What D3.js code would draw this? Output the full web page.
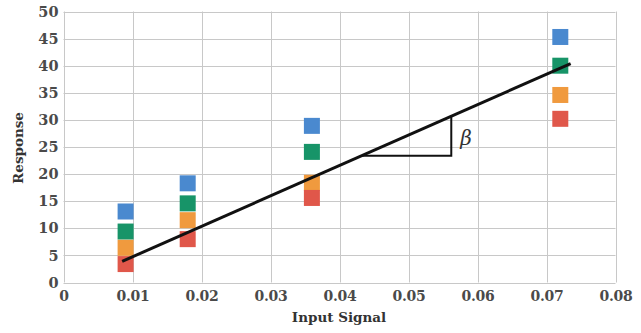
<!DOCTYPE html>
<html><head><meta charset="utf-8">
<script src="https://cdn.jsdelivr.net/npm/d3@7"></script>
<style>html,body{margin:0;padding:0;background:#fff;}svg{display:block;}</style>
</head><body>
<svg id="c" width="641" height="333"></svg>
<script>
const inputs = [0.009, 0.018, 0.036, 0.072];
const seriesNames = ["blue", "green", "orange", "red"];
const blueVals = [13.1, 18.3, 28.9, 45.3];
const greenVals = [9.4, 14.6, 24.1, 40.0];
const orangeVals = [6.4, 11.5, 18.4, 34.6];
const redVals = [3.4, 8.0, 15.6, 30.2];
const seriesColors = ["#4a89cf", "#179468", "#f09a3e", "#e0574a"];
const fitLine = [[0.0085, 3.9], [0.0735, 40.4]];
const triangle = [[0.0433, 23.4], [0.0562, 23.4], [0.0562, 30.6]];
const xTicks = [0, 0.01, 0.02, 0.03, 0.04, 0.05, 0.06, 0.07, 0.08];
const yTicks = [0, 5, 10, 15, 20, 25, 30, 35, 40, 45, 50];

const svg = d3.select("#c");
const m = {l: 63.5, r: 615.5, t: 11.5, b: 282.5};
const x = d3.scaleLinear().domain([0, 0.08]).range([m.l, m.r]);
const y = d3.scaleLinear().domain([0, 50]).range([m.b, m.t]);

const grid = svg.append("g");
grid.selectAll("line.v").data(xTicks).enter().append("line")
  .attr("x1", d => Math.round(x(d)) + 0.5).attr("x2", d => Math.round(x(d)) + 0.5)
  .attr("y1", m.t).attr("y2", m.b).attr("stroke", "#c8c8c8").attr("stroke-width", 1);
grid.selectAll("line.h").data(yTicks).enter().append("line")
  .attr("x1", m.l).attr("x2", m.r)
  .attr("y1", d => Math.round(y(d)) + 0.5).attr("y2", d => Math.round(y(d)) + 0.5)
  .attr("stroke", "#c8c8c8").attr("stroke-width", 1);

const font = "'DejaVu Serif', serif";
const xAxis = svg.append("g").attr("transform", `translate(0,${m.b})`)
  .call(d3.axisBottom(x).tickValues(xTicks).tickSize(0).tickPadding(9)
    .tickFormat(d => d === 0 ? "0" : d3.format(".2f")(d)));
xAxis.select(".domain").remove();
xAxis.selectAll("text").attr("font-family", font).attr("font-weight", "bold")
  .attr("font-size", 14).attr("letter-spacing", -0.3).attr("fill", "#4a4a4a");

const yAxis = svg.append("g").attr("transform", `translate(${m.l},0)`)
  .call(d3.axisLeft(y).tickValues(yTicks).tickSize(0).tickPadding(5));
yAxis.select(".domain").remove();
yAxis.selectAll("text").attr("font-family", font).attr("font-weight", "bold")
  .attr("font-size", 14.5).attr("fill", "#4a4a4a");

const allSeries = [blueVals, greenVals, orangeVals, redVals];
const sq = 16;
allSeries.forEach((vals, si) => {
  svg.append("g").selectAll("rect").data(vals).enter().append("rect")
    .attr("x", (d, i) => x(inputs[i]) - sq / 2)
    .attr("y", d => y(d) - sq / 2)
    .attr("width", sq).attr("height", sq)
    .attr("fill", seriesColors[si]);
});

svg.append("path")
  .attr("d", d3.line().x(d => x(d[0])).y(d => y(d[1]))(fitLine))
  .attr("stroke", "#111").attr("stroke-width", 3).attr("fill", "none");
svg.append("path")
  .attr("d", d3.line().x(d => x(d[0])).y(d => y(d[1]))(triangle))
  .attr("stroke", "#111").attr("stroke-width", 2).attr("fill", "none");
svg.append("text").attr("x", x(0.0575)).attr("y", y(25.3))
  .attr("font-family", "'DejaVu Serif', serif").attr("font-style", "italic")
  .attr("font-size", 20).attr("fill", "#333").text("β");

svg.append("text").attr("x", 339).attr("y", 322)
  .attr("text-anchor", "middle").attr("font-family", font).attr("font-weight", "bold")
  .attr("font-size", 13.5).attr("fill", "#333").text("Input Signal");
svg.append("text").attr("transform", `translate(23,${148}) rotate(-90)`)
  .attr("text-anchor", "middle").attr("font-family", font).attr("font-weight", "bold")
  .attr("font-size", 13.5).attr("fill", "#333").text("Response");
</script>
</body></html>
